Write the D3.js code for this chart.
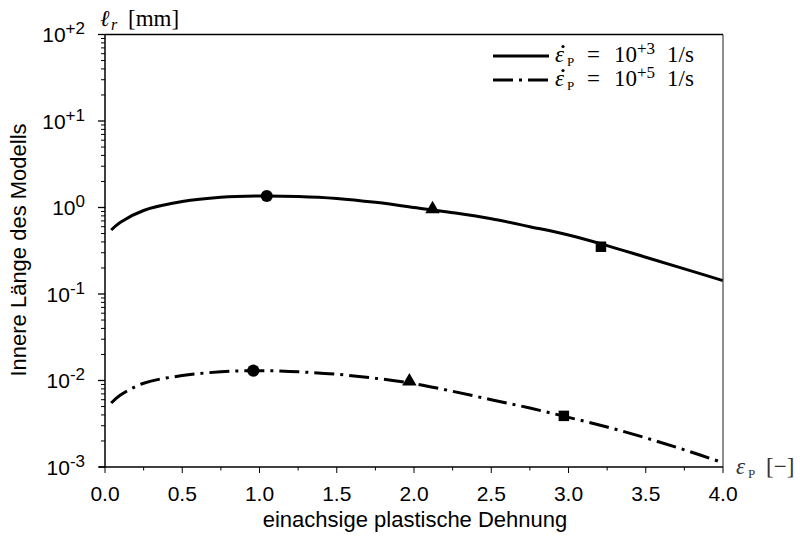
<!DOCTYPE html>
<html><head><meta charset="utf-8">
<script src="https://cdn.jsdelivr.net/npm/d3@7"></script>
<style>body{margin:0;background:#fff}</style></head>
<body><svg id="c" width="800" height="537"></svg>
<script>
// ---- data ----
const strain = [0.04,0.1,0.25,0.5,0.75,1.0,1.25,1.5,1.75,2.0,2.25,2.5,2.75,3.0,3.25,3.5,3.75,4.0];
const lenRate3 = [0.55,0.676,0.923,1.17,1.312,1.36,1.343,1.274,1.148,1.0,0.871,0.741,0.600,0.481,0.363,0.266,0.195,0.143];
const lenRate5 = [0.0055,0.0068,0.0093,0.0114,0.0126,0.0130,0.0126,0.0118,0.0106,0.0092,0.0075,0.0060,0.0048,0.00375,0.0029,0.00217,0.00158,0.00112];
const markX3 = [1.047,2.12,3.21];
const markY3 = [1.36,0.935,0.352];
const markX5 = [0.96,1.97,2.97];
const markY5 = [0.013,0.0095,0.0039];
const markShapes = ["circle","triangle","square"];
const xTicks = [0,0.5,1,1.5,2,2.5,3,3.5,4];
const xMinor = [0.25,0.75,1.25,1.75,2.25,2.75,3.25,3.75];
const yExp = [2,1,0,-1,-2,-3];
const yLabels = ["+2","+1","0","-1","-2","-3"];
const legendExp = ["+3","+5"];

// ---- layout ----
const svg = d3.select("#c");
const L=105, R=723, T=34.5, B=467;
const x = d3.scaleLinear().domain([0,4]).range([L,R]);
const y = d3.scaleLog().domain([1e-3,1e2]).range([B,T]);
const sans = "Arial, Helvetica, 'Liberation Sans', sans-serif";
const serif = "'Liberation Serif', 'Times New Roman', serif";

// curves
const line = d3.line().x(d=>x(d[0])).y(d=>y(d[1])).curve(d3.curveCatmullRom.alpha(0.5));
svg.append("path").datum(d3.zip(strain,lenRate3)).attr("d",line)
  .attr("fill","none").attr("stroke","#000").attr("stroke-width",3);
svg.append("path").datum(d3.zip(strain,lenRate5)).attr("d",line)
  .attr("fill","none").attr("stroke","#000").attr("stroke-width",3)
  .attr("stroke-dasharray","20,6,3,6");

// markers
const sym = {circle:d3.symbolCircle, triangle:d3.symbolTriangle, square:d3.symbolSquare};
const sz = {circle:115, triangle:90, square:110};
function drawMarkers(xs,ys){
  xs.forEach((v,i)=>{
    const s = markShapes[i];
    svg.append("path").attr("d",d3.symbol().type(sym[s]).size(sz[s])())
      .attr("transform",`translate(${x(v)},${y(ys[i]) + (s==="triangle"?-1:0)})`)
      .attr("fill","#000");
  });
}
drawMarkers(markX3,markY3);
drawMarkers(markX5,markY5);

// frame
svg.append("line").attr("x1",R).attr("x2",R).attr("y1",T).attr("y2",B)
  .attr("stroke","#444").attr("stroke-width",1.2);
svg.append("line").attr("x1",L).attr("x2",R).attr("y1",T).attr("y2",T)
  .attr("stroke","#000").attr("stroke-width",1.5);

// y axis
const yg = svg.append("g");
yg.append("line").attr("x1",L).attr("x2",L).attr("y1",T).attr("y2",B).attr("stroke","#000").attr("stroke-width",1.5);
yExp.forEach((e,i)=>{
  const v = Math.pow(10,e);
  yg.append("line").attr("x1",L-7).attr("x2",L).attr("y1",y(v)).attr("y2",y(v)).attr("stroke","#000").attr("stroke-width",1.3);
  if(e>-3){
    for(let m=2;m<=9;m++){
      const vv = m*Math.pow(10,e-1);
      yg.append("line").attr("x1",L-4).attr("x2",L).attr("y1",y(vv)).attr("y2",y(vv)).attr("stroke","#000").attr("stroke-width",1);
    }
  }
  const t = yg.append("text").attr("x",85).attr("y",y(v)).attr("dy","0.36em")
    .attr("text-anchor","end").attr("font-family",sans).attr("font-size",21).attr("fill","#000");
  t.append("tspan").text("10");
  t.append("tspan").attr("dy","-0.45em").attr("font-size",17).text(yLabels[i]);
});

// x axis
const xg = svg.append("g");
xg.append("line").attr("x1",L-6).attr("x2",R).attr("y1",B).attr("y2",B).attr("stroke","#000").attr("stroke-width",1.5);
xTicks.forEach(v=>{
  xg.append("line").attr("x1",x(v)).attr("x2",x(v)).attr("y1",B).attr("y2",B+6).attr("stroke","#000").attr("stroke-width",1);
  xg.append("text").attr("x",x(v)).attr("y",B+34).attr("text-anchor","middle")
    .attr("font-family",sans).attr("font-size",21).attr("fill","#000").text(d3.format(".1f")(v));
});
xMinor.forEach(v=>{
  xg.append("line").attr("x1",x(v)).attr("x2",x(v)).attr("y1",B).attr("y2",B+3.5).attr("stroke","#000").attr("stroke-width",1);
});

// axis titles
svg.append("text").attr("x",415).attr("y",527).attr("text-anchor","middle")
  .attr("font-family",sans).attr("font-size",22).attr("fill","#000").text("einachsige plastische Dehnung");
svg.append("text").attr("transform","translate(26,250) rotate(-90)").attr("text-anchor","middle")
  .attr("font-family",sans).attr("font-size",22).attr("fill","#000").text("Innere Länge des Modells");

// unit labels
const ul = svg.append("text").attr("y",26).attr("font-family",serif).attr("font-size",23).attr("fill","#000");
ul.append("tspan").attr("x",100).attr("font-style","italic").text("ℓ");
ul.append("tspan").attr("x",111).attr("dy","4").attr("font-size",16).attr("font-style","italic").text("r");
ul.append("tspan").attr("x",128).attr("dy","-4").text("[mm]");

const el = svg.append("text").attr("y",474).attr("font-family",serif).attr("font-size",23).attr("fill","#333");
el.append("tspan").attr("x",736).attr("font-style","italic").text("ε");
el.append("tspan").attr("x",748).attr("dy","4").attr("font-size",13).text("P");
el.append("tspan").attr("x",766).attr("dy","-4").text("[−]");

// legend
const legY = [56,80];
legY.forEach((ly,i)=>{
  svg.append("line").attr("x1",493).attr("x2",549).attr("y1",ly).attr("y2",ly)
    .attr("stroke","#000").attr("stroke-width",3)
    .attr("stroke-dasharray", i===0 ? null : "20,6,3,6");
  const bl = ly+6;
  const t = svg.append("text").attr("y",bl).attr("font-family",serif).attr("font-size",23).attr("fill","#000");
  t.append("tspan").attr("x",555).attr("font-style","italic").text("ε");
  t.append("tspan").attr("x",567).attr("dy","4").attr("font-size",13).text("P");
  t.append("tspan").attr("x",587).attr("dy","-4").text("=");
  t.append("tspan").attr("x",614).text("10");
  t.append("tspan").attr("x",637).attr("dy","-8").attr("font-size",17).text(legendExp[i]);
  t.append("tspan").attr("x",667).attr("dy","8").text("1/s");
  svg.append("circle").attr("cx",563).attr("cy",bl-15.5).attr("r",1.6).attr("fill","#000");
});
</script></body></html>
